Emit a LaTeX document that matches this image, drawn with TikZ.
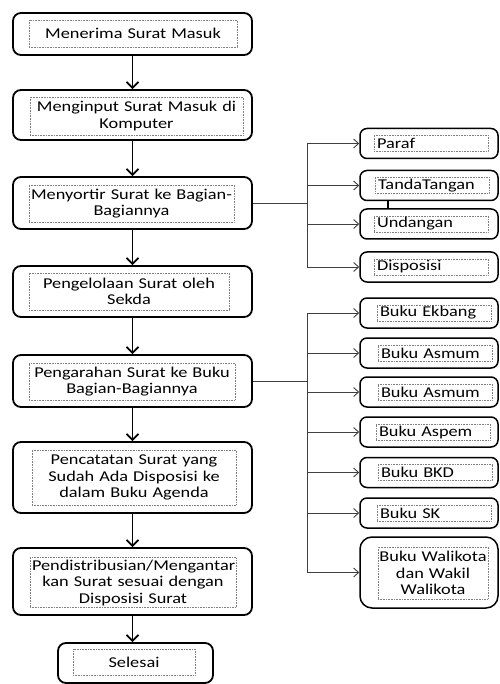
\documentclass[tikz,border=0pt]{standalone}
\usepackage{fontspec}
\setmainfont{Carlito}[FakeStretch=1.22]
\usetikzlibrary{arrows.meta}

\begin{document}
\begin{tikzpicture}[x=1pt, y=-1pt]
\tikzset{mainbox/.style={draw, line width=1.8pt, rounded corners=8pt, minimum width=239pt},
textbox/.style={draw=gray, densely dotted, line width=0.6pt, align=center, text width=202pt, inner sep=2pt, font=\fontsize{15}{16.5}\selectfont},
sidebox/.style={draw, line width=1.5pt, rounded corners=7pt, minimum width=138pt, minimum height=30pt},
sidetext/.style={draw=gray, densely dotted, line width=0.6pt, align=left, text width=108pt, inner xsep=3pt, inner ysep=1pt, minimum height=16pt, font=\fontsize{15}{16.5}\selectfont},
flow/.style={line width=1.8pt, -{Straight Barb[length=6pt,width=12pt]}},
branch/.style={line width=0.9pt, draw=black!75, -{Straight Barb[length=5pt,width=9pt]}}}

\useasboundingbox (0,0) rectangle (499,684);

%% Main column
\node (m1) [mainbox, minimum height=42] at (132.5,34) {};
\node (t1) [textbox, minimum height=27, text width=204pt] at (133,33.5) {Menerima Surat Masuk};
\node (m2) [mainbox, minimum height=50] at (132.5,115) {};
\node (t2) [textbox, minimum height=38, text width=209pt] at (136.5,116) {Menginput Surat Masuk di\\Komputer};
\node (m3) [mainbox, minimum height=52] at (132.5,203) {};
\node (t3) [textbox, minimum height=37, text width=205pt, inner xsep=0pt] at (131.5,203.5) {Menyortir Surat ke Bagian-\\Bagiannya};
\node (m4) [mainbox, minimum height=51] at (132.5,291.5) {};
\node (t4) [textbox, minimum height=37, text width=196pt] at (129,291.5) {Pengelolaan Surat oleh\\Sekda};
\node (m5) [mainbox, minimum height=52] at (132.5,381) {};
\node (t5) [textbox, minimum height=37] at (132,381.5) {Pengarahan Surat ke Buku\\Bagian-Bagiannya};
\node (m6) [mainbox, minimum height=71] at (132.5,477.5) {};
\node (t6) [textbox, minimum height=55, text width=200pt] at (134,477.5) {Pencatatan Surat yang\\Sudah Ada Disposisi ke\\dalam Buku Agenda};
\node (m7) [mainbox, minimum height=67] at (132.5,581.5) {};
\node (t7) [textbox, minimum height=49] at (133,582.5) {Pendistribusian/Mengantar\\kan Surat sesuai dengan\\Disposisi Surat};
\node (m8) [mainbox, minimum height=40, minimum width=155pt] at (135.5,663) {};
\node (t8) [textbox, minimum height=26, text width=118pt] at (134,662) {Selesai};

%% Side boxes
\foreach \n/\y/\ix/\lab in {1/143.5/431/Paraf, 2/185.5/432/TandaTangan, 3/224/431/Undangan, 4/267/431/Disposisi} {
  \node (r\n) [sidebox] at (429,\y) {};
  \node (s\n) [sidetext] at (\ix,\y) {\lab};
}
\foreach \n/\y/\ix/\lab in {5/313/434/Buku Ekbang, 6/353/435/Buku Asmum, 7/392/435/Buku Asmum, 8/432/433/Buku Aspem, 9/472.5/435/Buku BKD, 10/513/434/Buku SK} {
  \node (r\n) [sidebox] at (429,\y) {};
  \node (s\n) [sidetext] at (\ix,\y) {\lab};
}
\node (r11) [sidebox, minimum height=71, rounded corners=12pt] at (429,572.5) {};
\node (s11) [sidetext, align=center, text width=110pt, inner xsep=0pt, minimum height=52] at (433,573) {Buku Walikota\\dan Wakil\\Walikota};

%% Edges
\foreach \u/\v in {m1/m2, m2/m3, m3/m4, m4/m5, m5/m6, m6/m7} \draw[flow] (\u) -- (\v);
\draw[flow] (m7.south) -- (m7.south |- m8.north);

\coordinate (ja) at (307,203);
\coordinate (jb) at (307,381);
\draw[line width=0.9pt, black!75] (m3.east) -- (ja);
\draw[line width=0.9pt, black!75] (ja |- r1.west) -- (ja |- r4.west);
\foreach \n in {1,...,4} \draw[branch] (ja |- r\n.west) -- (r\n.west);
\draw[line width=0.9pt, black!75] (m5.east) -- (jb);
\draw[line width=0.9pt, black!75] (jb |- r5.west) -- (jb |- r11.west);
\foreach \n in {5,...,11} \draw[branch] (jb |- r\n.west) -- (r\n.west);

\draw[line width=1.4pt] ([xshift=-41pt]r2.south) -- ([xshift=-41pt]r3.north);

\end{tikzpicture}
\end{document}
